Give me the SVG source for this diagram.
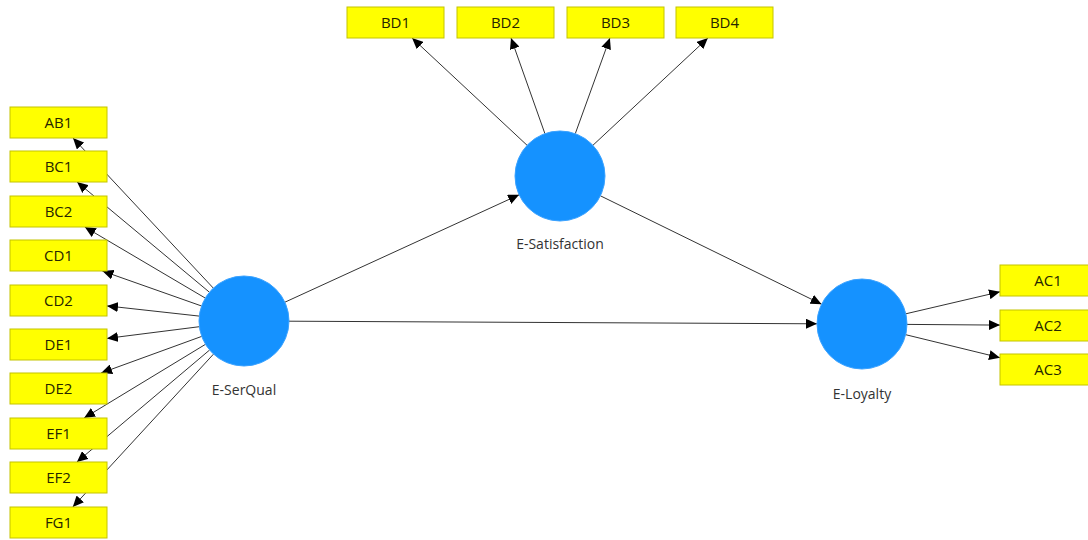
<svg xmlns="http://www.w3.org/2000/svg" width="1088" height="540" viewBox="0 0 1088 540">
<defs>
<marker id="arr" markerUnits="userSpaceOnUse" markerWidth="11" markerHeight="10" refX="11" refY="5" orient="auto">
<path d="M0,0 L11,5 L0,10 z" fill="#000"/>
</marker>
<style>
.ind rect{fill:#ffff00;stroke:#c4c400;stroke-width:1}
.ind text{font-family:"Open Sans","Noto Sans",sans-serif;font-size:15px;fill:#262600;text-anchor:middle}
.lv circle{fill:#1592ff;stroke:#3aa2ff;stroke-width:1}
.lv text{font-family:"Open Sans","Noto Sans",sans-serif;font-size:14px;fill:#333;text-anchor:middle}
.conn line{stroke:#333;stroke-width:1;marker-end:url(#arr)}
</style>
</defs>
<rect width="1088" height="540" fill="#fff"/>
<g class="conn" id="connectors">
<line x1="213.3" y1="288.1" x2="73" y2="138"/>
<line x1="209.4" y1="292.2" x2="77.1" y2="182"/>
<line x1="205.3" y1="298.1" x2="84.8" y2="227"/>
<line x1="201.6" y1="306" x2="102.4" y2="271"/>
<line x1="199.3" y1="316.1" x2="107" y2="305.9"/>
<line x1="199.4" y1="326.7" x2="107" y2="338.4"/>
<line x1="201.7" y1="336.4" x2="101.1" y2="373"/>
<line x1="205.5" y1="344.3" x2="84.1" y2="418"/>
<line x1="209.6" y1="350" x2="76.9" y2="462"/>
<line x1="213.5" y1="354.1" x2="72.8" y2="507"/>
<line x1="527.1" y1="145.3" x2="412.1" y2="38"/>
<line x1="544.9" y1="133.6" x2="511" y2="38"/>
<line x1="575.3" y1="133.6" x2="609.9" y2="38"/>
<line x1="592.9" y1="145.3" x2="707.9" y2="38"/>
<line x1="905.8" y1="313.8" x2="1000" y2="291.8"/>
<line x1="907" y1="324.4" x2="1000" y2="325.1"/>
<line x1="905.7" y1="334.7" x2="1000" y2="357.7"/>
<line x1="284.9" y1="302.2" x2="519.1" y2="194.8"/>
<line x1="289" y1="321.2" x2="817" y2="323.8"/>
<line x1="600.4" y1="195.8" x2="821.6" y2="304.2"/>
</g>
<g class="ind" id="AB1"><rect x="10" y="107" width="97" height="31"/><text x="58.5" y="128">AB1</text></g>
<g class="ind" id="BC1"><rect x="10" y="151" width="97" height="31"/><text x="58.5" y="172">BC1</text></g>
<g class="ind" id="BC2"><rect x="10" y="196" width="97" height="31"/><text x="58.5" y="217">BC2</text></g>
<g class="ind" id="CD1"><rect x="10" y="240" width="97" height="31"/><text x="58.5" y="261">CD1</text></g>
<g class="ind" id="CD2"><rect x="10" y="285" width="97" height="31"/><text x="58.5" y="306">CD2</text></g>
<g class="ind" id="DE1"><rect x="10" y="329" width="97" height="31"/><text x="58.5" y="350">DE1</text></g>
<g class="ind" id="DE2"><rect x="10" y="373" width="97" height="31"/><text x="58.5" y="394">DE2</text></g>
<g class="ind" id="EF1"><rect x="10" y="418" width="97" height="31"/><text x="58.5" y="439">EF1</text></g>
<g class="ind" id="EF2"><rect x="10" y="462" width="97" height="31"/><text x="58.5" y="483">EF2</text></g>
<g class="ind" id="FG1"><rect x="10" y="507" width="97" height="31"/><text x="58.5" y="528">FG1</text></g>
<g class="ind" id="BD1"><rect x="347" y="7" width="97" height="31"/><text x="395.5" y="28">BD1</text></g>
<g class="ind" id="BD2"><rect x="457" y="7" width="97" height="31"/><text x="505.5" y="28">BD2</text></g>
<g class="ind" id="BD3"><rect x="567" y="7" width="97" height="31"/><text x="615.5" y="28">BD3</text></g>
<g class="ind" id="BD4"><rect x="676" y="7" width="97" height="31"/><text x="724.5" y="28">BD4</text></g>
<g class="ind" id="AC1"><rect x="1000" y="265" width="97" height="31"/><text x="1048" y="286">AC1</text></g>
<g class="ind" id="AC2"><rect x="1000" y="310" width="97" height="31"/><text x="1048" y="331">AC2</text></g>
<g class="ind" id="AC3"><rect x="1000" y="354" width="97" height="31"/><text x="1048" y="375">AC3</text></g>
<g class="lv" id="E-SerQual"><circle cx="244" cy="321" r="45"/><text x="244" y="395">E-SerQual</text></g>
<g class="lv" id="E-Satisfaction"><circle cx="560" cy="176" r="45"/><text x="560" y="249">E-Satisfaction</text></g>
<g class="lv" id="E-Loyalty"><circle cx="862" cy="324" r="45"/><text x="862" y="399">E-Loyalty</text></g>
</svg>
